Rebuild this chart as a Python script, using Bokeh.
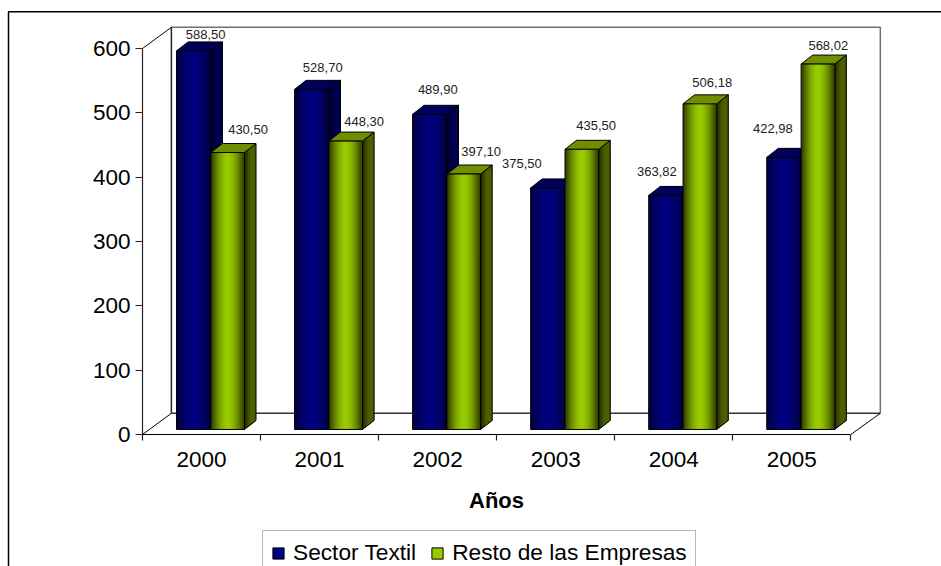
from bokeh.plotting import figure
from bokeh.embed import file_html
from bokeh.resources import INLINE
from bokeh.models import ColumnDataSource, FixedTicker, Legend, LegendItem
from bokeh.core.properties import value

years = ["2000", "2001", "2002", "2003", "2004", "2005"]
sector_textil = [588.50, 528.70, 489.90, 375.50, 363.82, 422.98]
resto_empresas = [430.50, 448.30, 397.10, 435.50, 506.18, 568.02]
y_ticks = [0, 100, 200, 300, 400, 500, 600]
series_names = ["Sector Textil", "Resto de las Empresas"]

FONT = "Liberation Sans"
W, H = 941, 566
AXIS_X, AXIS_Y = 142, 434   # canvas pixel of the axes' origin
PX_X = 118.05   # pixels per category
PX_Y = 0.6433   # pixels per value unit
WALL_RIGHT, WALL_TOP = 6.25, 633.0
WALL_DX, WALL_DY = 0.245, 33.0
BAR_DX, BAR_DY = 0.0975, 14.0
BAR_BASE = 7.8
BAR_W = 0.291
BAR_L = 0.288

x0, x1 = -AXIS_X / PX_X, (W - AXIS_X) / PX_X
y0, y1 = (AXIS_Y - H) / PX_Y, AXIS_Y / PX_Y

p = figure(width=W, height=H, output_backend="svg", toolbar_location=None,
           x_range=(x0, x1), y_range=(y0, y1),
           min_border_left=0, min_border_top=0, min_border_bottom=0, min_border_right=0,
           outline_line_color=None, background_fill_color="white", border_fill_color="white")
p.grid.visible = False

# outer chart frame (cut by the picture at right and bottom)
fx = x0 + 8 / PX_X
fy = y1 - 11.3 / PX_Y
p.line([fx, fx, x1 + 1], [y0 - 20, fy, fy], line_color="black", line_width=1.5)

# Back wall and floor
p.line([WALL_DX, WALL_DX, WALL_RIGHT, WALL_RIGHT], [WALL_DY, WALL_TOP, WALL_TOP, WALL_DY],
       line_color="#707070", line_width=1.5)
p.line([WALL_DX, WALL_DX], [WALL_DY, WALL_TOP], line_color="#222222", line_width=1.2)
p.line([WALL_DX, WALL_RIGHT], [WALL_DY, WALL_DY], line_color="#333333", line_width=1.5)
p.line([0, WALL_DX], [600, WALL_TOP], line_color="black", line_width=1)
p.line([0, WALL_DX], [0, WALL_DY], line_color="black", line_width=1)
p.line([6, WALL_RIGHT], [0, WALL_DY], line_color="black", line_width=1)


def mix(a, b, t):
    return "#%02x%02x%02x" % tuple(round(a[i] + (b[i] - a[i]) * t) for i in range(3))


def draw_bar(left, width, val, edge, centre, side_edge, side, top):
    base, high = BAR_BASE, val + BAR_BASE
    # side face, shaded front to back
    right = left + width
    n = 6
    for k in range(n):
        a = right + BAR_DX * k / n
        c = mix(side_edge, side, min(1.0, (k + 0.5) / n * 2))
        p.patch([a, right + BAR_DX, right + BAR_DX, a],
                [base + BAR_DY * k / n, base + BAR_DY, high + BAR_DY, high + BAR_DY * k / n],
                fill_color=c, line_color=None)
    p.patch([right, right + BAR_DX, right + BAR_DX, right],
            [base, base + BAR_DY, high + BAR_DY, high], fill_color=None, line_color="black", line_width=1)
    p.patch([left, left + BAR_DX, right + BAR_DX, right],
            [high, high + BAR_DY, high + BAR_DY, high], fill_color=top, line_color="black", line_width=1)
    # shaded front: overlapping strips, each painted up to the bar's right edge
    n = 32
    for k in range(n):
        t = abs((k + 0.5) / n * 2 - 1)
        shade = min(1.0, t / 0.9) ** 1.7
        c = mix(centre, edge, shade)
        p.quad(left=left + width * k / n, right=right, bottom=base, top=high, fill_color=c, line_color=None)
    p.quad(left=left, right=right, bottom=base, top=high, fill_color=None, line_color="black", line_width=1)


BLUE = dict(edge=(0, 0, 70), centre=(0, 0, 128), side_edge=(0, 0, 40), side=(0, 0, 80), top="#00005c")
GREEN = dict(edge=(58, 74, 0), centre=(153, 204, 0), side_edge=(30, 38, 0), side=(77, 96, 0), top="#6f8f00")

for i in range(len(years)):
    draw_bar(i + BAR_L, BAR_W, sector_textil[i], **BLUE)
for i in range(len(years)):
    draw_bar(i + BAR_L + BAR_W, BAR_W - 0.006, resto_empresas[i], **GREEN)

# Value labels: the original chart places each by hand, so each has its own nudge
blue_dx = [12, 11, 8, -26, -9, -11]
blue_dy = [16, 22, 24.5, 24, 24, 28.6]
green_dx = [20, 18, 17, 14, 12, 10]
green_dy = [23, 20, 22.5, 24, 21.6, 18.6]
xs, ys, labels, dxs, dys = [], [], [], [], []
for i in range(len(years)):
    for v, off, dx, dy in ((sector_textil[i], 0.0, blue_dx[i], blue_dy[i]),
                           (resto_empresas[i], BAR_W, green_dx[i], green_dy[i])):
        xs.append(i + BAR_L + off + BAR_W / 2)
        ys.append(v + BAR_BASE)
        labels.append(f"{v:.2f}".replace(".", ","))
        dxs.append(dx)
        dys.append(-dy)
p.text(x="x", y="y", text="t", x_offset="dx", y_offset="dy",
       source=ColumnDataSource(dict(x=xs, y=ys, t=labels, dx=dxs, dy=dys)),
       text_font=value(FONT), text_font_size="13px", text_color="#222222",
       text_align="center", text_baseline="middle")

# Axes
ya = p.yaxis[0]
ya.fixed_location = 0
ya.ticker = FixedTicker(ticks=y_ticks)
ya.bounds = (0, 600)
ya.axis_line_color = "#222222"
ya.axis_line_width = 1.2
ya.major_tick_line_color = "#222222"
ya.major_tick_line_width = 1.2
ya.major_tick_out = 7
ya.major_tick_in = 0
ya.minor_tick_line_color = None
ya.major_label_standoff = 5
ya.major_label_text_font = FONT
ya.major_label_text_font_size = "22.5px"
ya.major_label_text_color = "black"

centres = [i + 0.5 for i in range(len(years))]
xa = p.xaxis[0]
xa.fixed_location = 0
xa.ticker = FixedTicker(ticks=centres, minor_ticks=list(range(len(years) + 1)))
xa.major_label_overrides = {c: y for c, y in zip(centres, years)}
xa.bounds = (0, 6)
xa.axis_line_color = "black"
xa.axis_line_width = 1.2
xa.major_tick_line_color = None
xa.major_tick_out = 0
xa.major_tick_in = 0
xa.minor_tick_line_color = "#222222"
xa.minor_tick_line_width = 1.2
xa.minor_tick_out = 6
xa.minor_tick_in = 0
xa.major_label_standoff = 11
xa.major_label_text_font = FONT
xa.major_label_text_font_size = "22.5px"
xa.major_label_text_color = "black"
xa.axis_label = "Años"
xa.axis_label_text_font = FONT
xa.axis_label_text_font_size = "22px"
xa.axis_label_text_font_style = "bold"
xa.axis_label_text_color = "black"
xa.axis_label_standoff = 18

# Legend: swatch-only renderers, no point of them falls on the chart
nan = float("nan")
r1 = p.quad(left=[nan], right=[nan], bottom=[nan], top=[nan], fill_color="#000080", line_color="black")
r2 = p.quad(left=[nan], right=[nan], bottom=[nan], top=[nan], fill_color="#99cc00", line_color="black")
leg = Legend(items=[LegendItem(label=series_names[0], renderers=[r1]),
                    LegendItem(label=series_names[1], renderers=[r2])],
             orientation="horizontal", location=(262, -9), margin=0, padding=8, spacing=14,
             glyph_width=14, glyph_height=14, label_standoff=8,
             label_text_font=FONT, label_text_font_size="22.7px", label_text_color="black",
             border_line_color="#707070", border_line_width=1.5, background_fill_color="white",
             background_fill_alpha=1)
p.add_layout(leg, "center")

open("out.html", "w").write(file_html(p, INLINE))
